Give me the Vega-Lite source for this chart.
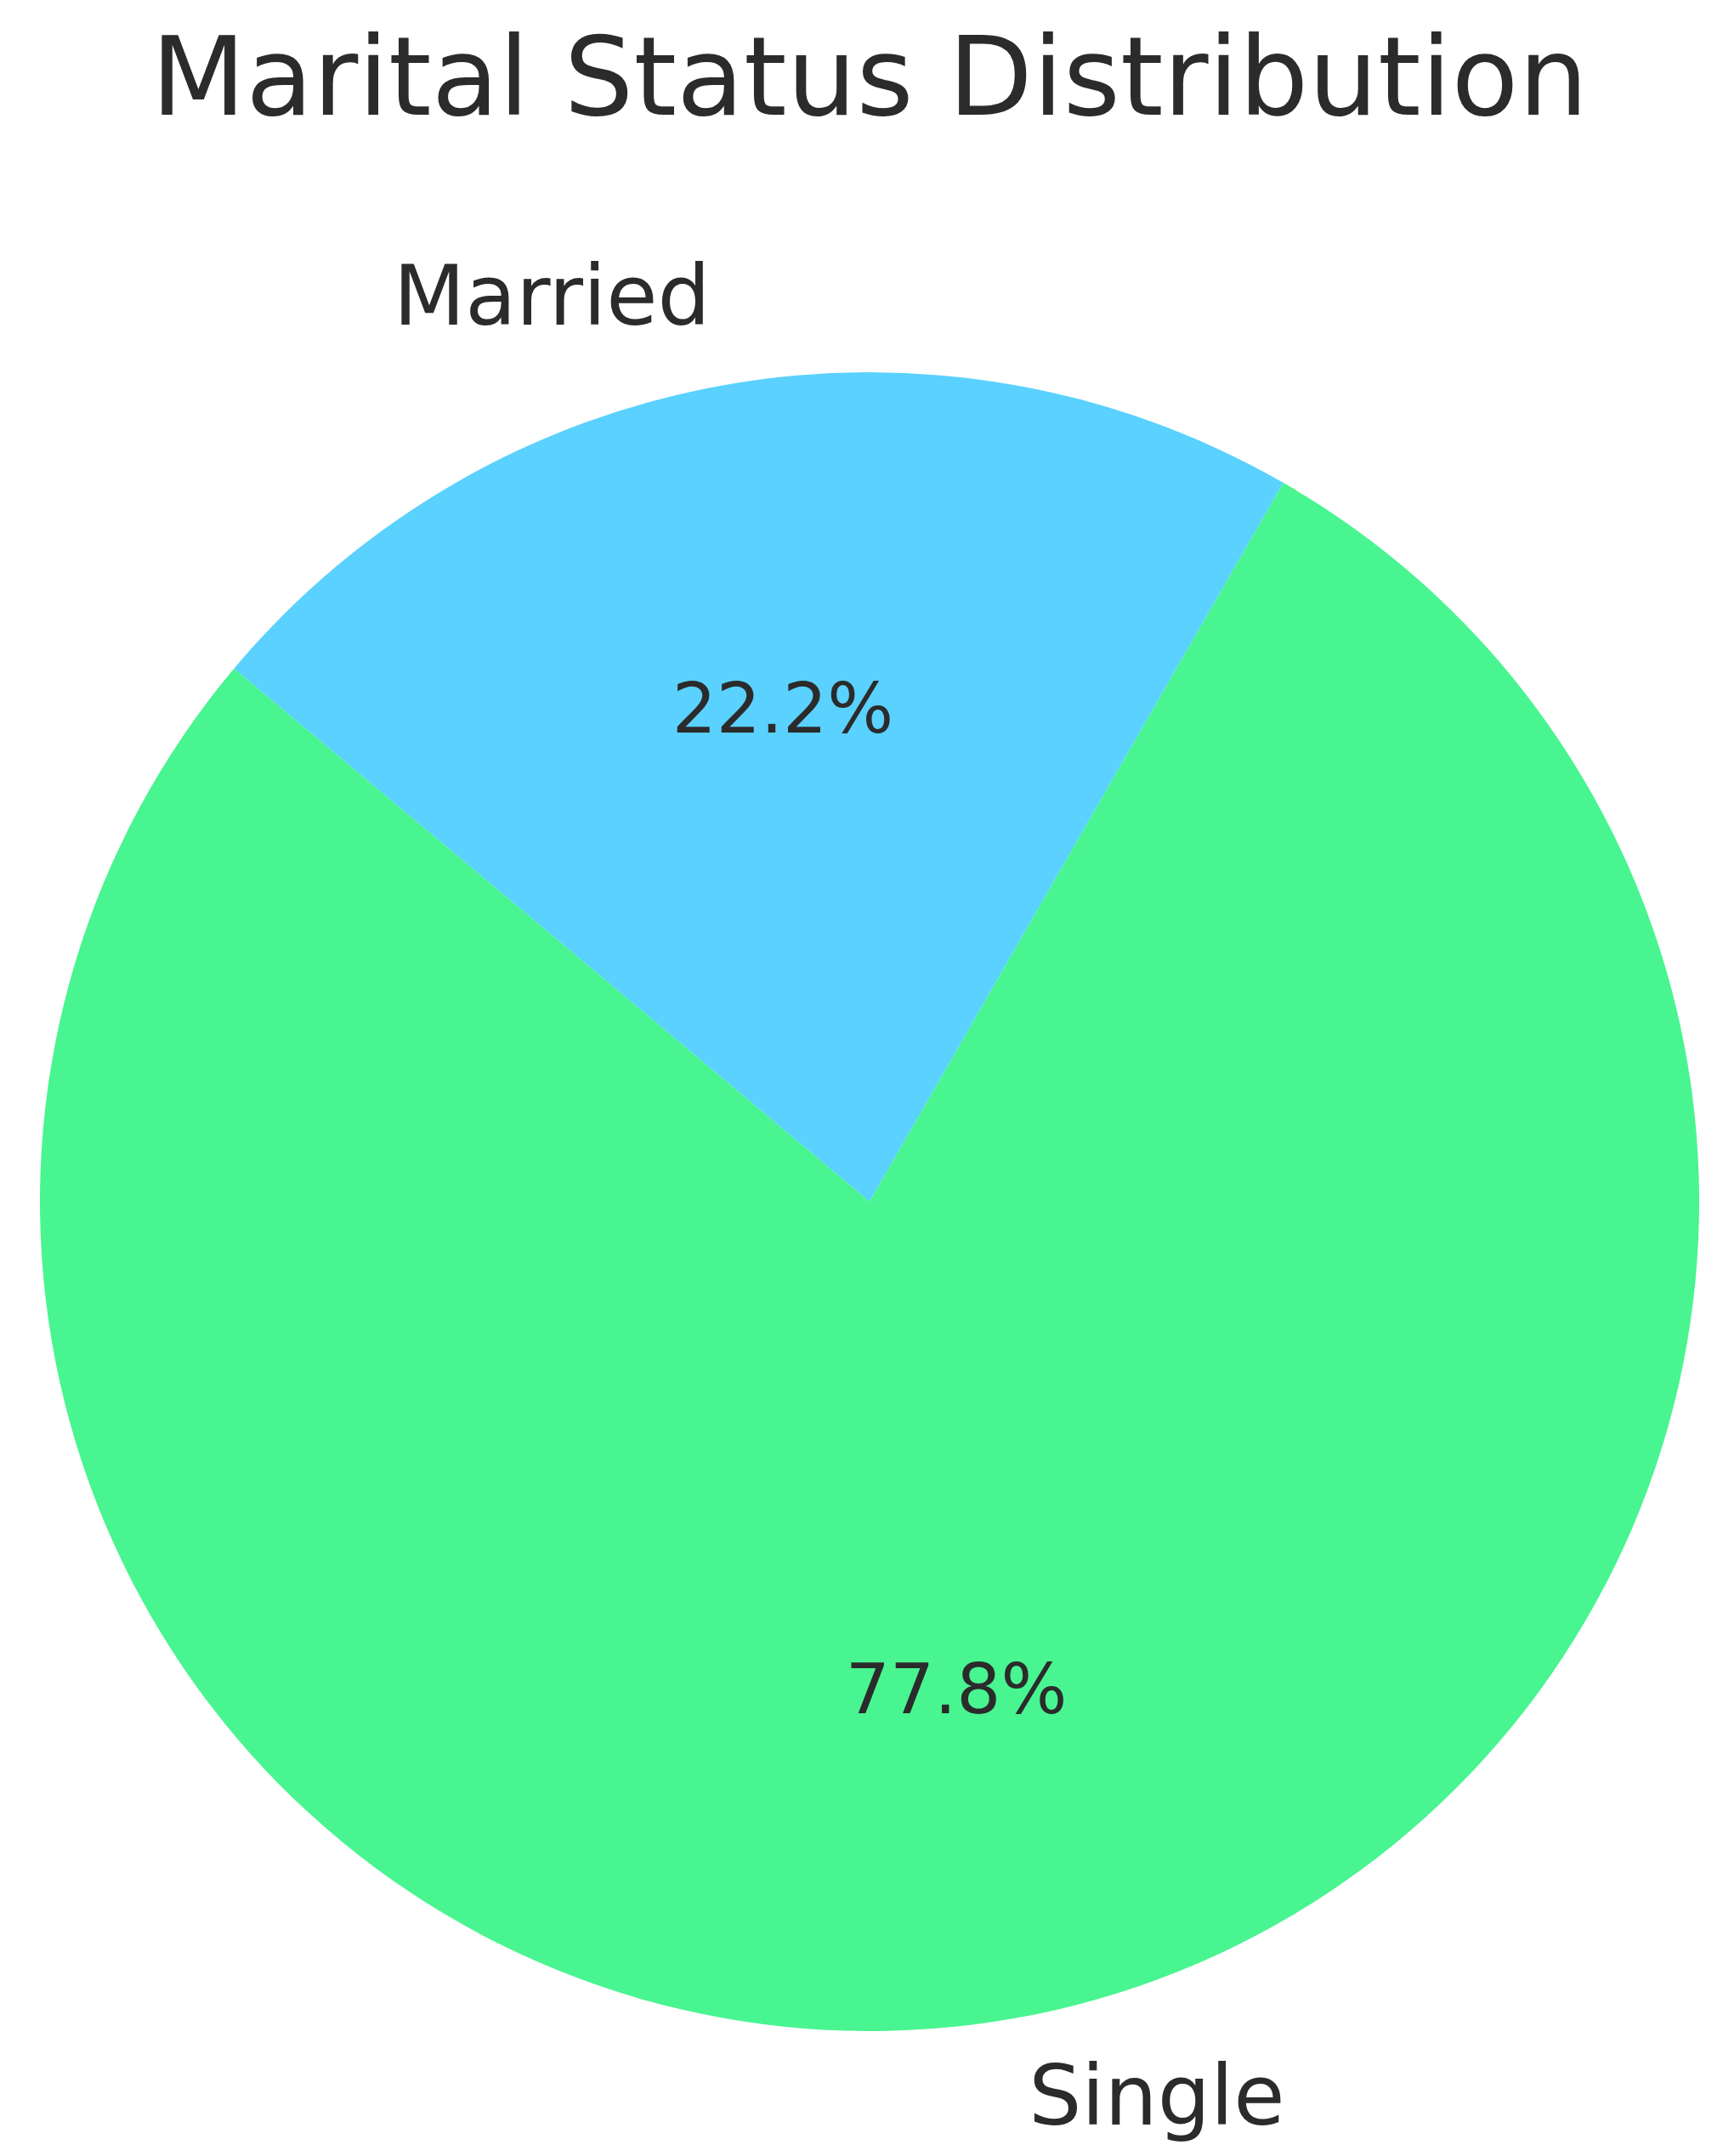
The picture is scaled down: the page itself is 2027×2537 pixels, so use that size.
{
  "$schema": "https://vega.github.io/schema/vega-lite/v6.json",
  "autosize": {"type": "none"},
  "width": 2008,
  "height": 2246,
  "padding": {"left": 19, "top": 291, "right": 0, "bottom": 0},
  "background": "white",
  "title": {
    "text": "Marital Status Distribution",
    "font": "DejaVu Sans",
    "fontSize": 129,
    "fontWeight": "normal",
    "color": "#2b2b2b",
    "anchor": "middle",
    "offset": 129
  },
  "data": {
    "values": [
      {"status": "Married", "share": 0.222},
      {"status": "Single", "share": 0.778}
    ]
  },
  "encoding": {
    "theta": {
      "field": "share",
      "type": "quantitative",
      "stack": true,
      "scale": {"domain": [0, 1], "range": [-0.872665, 5.410521]}
    },
    "order": {"field": "status", "sort": "ascending"}
  },
  "layer": [
    {
      "mark": {"type": "arc", "radius": 976, "strokeWidth": 0},
      "encoding": {
        "color": {
          "field": "status",
          "type": "nominal",
          "scale": {"domain": ["Married", "Single"], "range": ["#5ad1fe", "#48f590"]},
          "legend": null
        }
      }
    },
    {
      "mark": {"type": "text", "radius": 585.6, "font": "DejaVu Sans", "fontSize": 82, "color": "#2b2b2b", "align": "center", "baseline": "middle"},
      "encoding": {
        "text": {"field": "share", "type": "quantitative", "format": ".1%"}
      }
    },
    {
      "mark": {"type": "text", "radius": 1073.6, "font": "DejaVu Sans", "fontSize": 98, "color": "#2b2b2b", "align": "right", "baseline": "middle", "dy": -4},
      "encoding": {
        "text": {"condition": {"test": "datum.status === 'Married'", "field": "status", "type": "nominal"}, "value": ""}
      }
    },
    {
      "mark": {"type": "text", "radius": 1073.6, "font": "DejaVu Sans", "fontSize": 98, "color": "#2b2b2b", "align": "left", "baseline": "middle"},
      "encoding": {
        "text": {"condition": {"test": "datum.status === 'Single'", "field": "status", "type": "nominal"}, "value": ""}
      }
    }
  ]
}
